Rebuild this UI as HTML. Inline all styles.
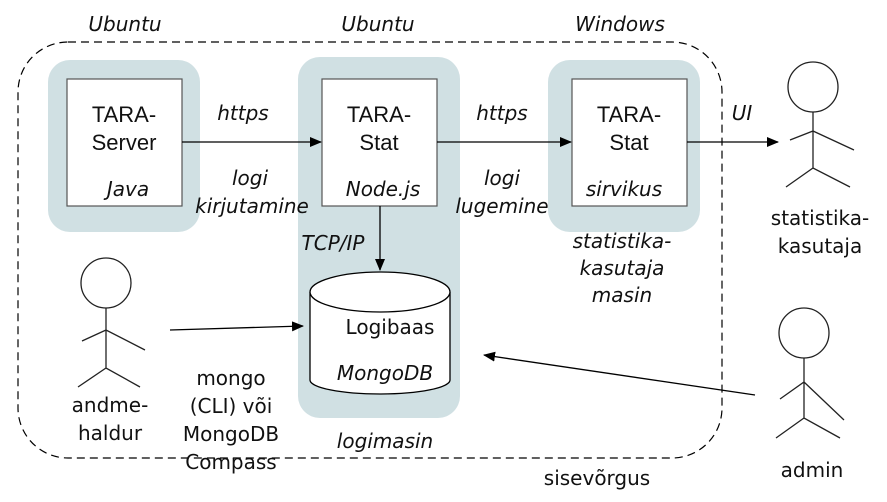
<!DOCTYPE html>
<html><head><meta charset="utf-8"><style>
html,body{margin:0;padding:0;background:#fff}
svg{display:block}
text{font-family:"DejaVu Sans","Liberation Sans",sans-serif;font-size:20px;fill:#111}
.it{font-style:italic}
.ar{font-family:"Liberation Sans",sans-serif;font-size:22px}
</style></head><body>
<svg width="887" height="502" viewBox="0 0 887 502" xmlns="http://www.w3.org/2000/svg">
<defs><marker id="a" markerWidth="12" markerHeight="10" refX="11" refY="5" orient="auto" markerUnits="userSpaceOnUse"><path d="M0,0 L12,5 L0,10 z" fill="#000"/></marker></defs>
<rect x="18" y="42" width="704" height="416" rx="50" fill="none" stroke="#000" stroke-width="1.2" stroke-dasharray="8,5"/>
<rect x="48" y="60" width="152" height="172" rx="22" fill="#d0e0e3"/>
<rect x="298" y="57" width="162" height="361" rx="22" fill="#d0e0e3"/>
<rect x="548" y="60" width="152" height="172" rx="22" fill="#d0e0e3"/>
<g fill="#fff" stroke="#555" stroke-width="1.2">
<rect x="67" y="79" width="115" height="127"/>
<rect x="322" y="79" width="115" height="127"/>
<rect x="572" y="79" width="115" height="127"/>
</g>
<g stroke="#000" stroke-width="1.3" fill="none">
<line x1="182" y1="142" x2="321" y2="142" marker-end="url(#a)"/>
<line x1="437" y1="142" x2="571" y2="142" marker-end="url(#a)"/>
<line x1="687" y1="142" x2="778" y2="142" marker-end="url(#a)"/>
<line x1="380" y1="206" x2="380" y2="270" marker-end="url(#a)"/>
<line x1="170" y1="330" x2="303" y2="326" marker-end="url(#a)"/>
<line x1="755" y1="395" x2="484" y2="355" marker-end="url(#a)"/>
</g>
<path d="M310,292 L310,380 A70,14 0 0 0 450,380 L450,292" fill="#fff" stroke="#000" stroke-width="1.3"/>
<ellipse cx="380" cy="292" rx="70" ry="20" fill="#fff" stroke="#000" stroke-width="1.3"/>
<g stroke="#222" stroke-width="1.3" fill="#fff">
<circle cx="813" cy="87" r="25"/>
<path d="M813,112 V168 M790,140 L813,131 L854,150 M786,187 L813,168 L850,187" fill="none"/>
<circle cx="804" cy="333" r="25"/>
<path d="M804,358 V418 M780,399 L804,382 L844,420 M776,438 L804,418 L840,438" fill="none"/>
<circle cx="106" cy="283" r="25"/>
<path d="M106,308 V368 M82,341 L106,330 L145,350 M78,387 L106,368 L140,387" fill="none"/>
</g>
<g text-anchor="middle">
<text x="125" y="31" class="it">Ubuntu</text>
<text x="378" y="31" class="it">Ubuntu</text>
<text x="620" y="31" class="it">Windows</text>
<text x="124" y="122" class="ar">TARA-</text>
<text x="124" y="150" class="ar">Server</text>
<text x="128" y="196" class="it">Java</text>
<text x="379" y="122" class="ar">TARA-</text>
<text x="379" y="150" class="ar">Stat</text>
<text x="383" y="196" class="it">Node.js</text>
<text x="629" y="122" class="ar">TARA-</text>
<text x="629" y="150" class="ar">Stat</text>
<text x="624" y="196" class="it">sirvikus</text>
<text x="243" y="120" class="it">https</text>
<text x="250" y="185" class="it">logi</text>
<text x="252" y="213" class="it">kirjutamine</text>
<text x="502" y="120" class="it">https</text>
<text x="502" y="185" class="it">logi</text>
<text x="502" y="213" class="it">lugemine</text>
<text x="742" y="120" class="it">UI</text>
<text x="333" y="250" class="it">TCP/IP</text>
<text x="390" y="334">Logibaas</text>
<text x="385" y="380" class="it">MongoDB</text>
<text x="385" y="448" class="it">logimasin</text>
<text x="622" y="248" class="it">statistika-</text>
<text x="622" y="275" class="it">kasutaja</text>
<text x="622" y="302" class="it">masin</text>
<text x="820" y="225">statistika-</text>
<text x="820" y="253">kasutaja</text>
<text x="812" y="477">admin</text>
<text x="110" y="412">andme-</text>
<text x="110" y="440">haldur</text>
<text x="231" y="385">mongo</text>
<text x="231" y="413">(CLI) või</text>
<text x="231" y="441">MongoDB</text>
<text x="231" y="469">Compass</text>
<text x="597" y="485">sisevõrgus</text>
</g>
</svg>
</body></html>
